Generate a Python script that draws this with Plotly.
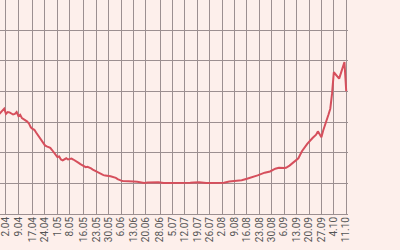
import pandas as pd
import plotly.graph_objects as go

start_date = "2020-03-29"
day_offsets = [0, 1, 2, 3, 4, 5, 6, 7, 8, 9, 10, 11, 12, 13, 14, 15, 16, 17, 18, 19,
               20, 21, 22, 23, 24, 25, 26, 27, 28, 29, 30, 31, 32, 33, 34, 35, 36, 37, 38, 39,
               40, 41, 42, 43, 44, 45, 46, 47, 48, 49, 50, 51, 52, 53, 54, 55, 56, 57, 58, 59,
               60, 61, 62, 63, 64, 65, 66, 67, 68, 69, 70, 72, 74, 76, 78, 80, 82, 84, 86, 90,
               93, 96, 100, 104, 108, 110, 113, 117, 121, 125, 127, 130, 132, 135, 137, 140,
               143, 146, 150, 153, 156, 158, 161, 162, 164, 166, 169, 171, 174, 177, 179, 180,
               182, 183, 184, 185, 186, 187, 188, 189, 190, 191, 192, 194, 195, 196]
values = [325, 331, 338, 344, 327, 333, 332, 329, 325, 327, 333, 320, 324, 313, 309, 307, 302, 295, 283, 278,
          275, 266, 257, 248, 239, 230, 224, 221, 218, 216, 209, 201, 191, 186, 188, 178, 175, 178, 182, 178,
          180, 181, 178, 175, 170, 167, 163, 160, 155, 153, 154, 152, 149, 145, 142, 137, 135, 131, 128, 127,
          126, 126, 124, 123, 122, 120, 118, 114, 111, 109, 108, 108, 107, 106, 105, 103, 101, 103, 104, 104,
          101, 101, 100, 101, 102, 103, 104, 101, 101, 101, 102, 106, 107, 108, 110, 115,
          120, 126, 135, 139, 148, 151, 150, 151, 158, 167, 182, 205, 229, 248, 259, 270,
          251, 273, 293, 310, 325, 344, 393, 463, 455, 446, 442, 478, 496, 401]

tick_dates = ["2020-04-02", "2020-04-09", "2020-04-17", "2020-04-24", "2020-05-01", "2020-05-08",
              "2020-05-16", "2020-05-23", "2020-05-30", "2020-06-06", "2020-06-13", "2020-06-20",
              "2020-06-28", "2020-07-05", "2020-07-12", "2020-07-19", "2020-07-26", "2020-08-02",
              "2020-08-09", "2020-08-16", "2020-08-23", "2020-08-30", "2020-09-06", "2020-09-13",
              "2020-09-20", "2020-09-27", "2020-10-04", "2020-10-11"]
tick_labels = ["2.04", "9.04", "17.04", "24.04", "1.05", "8.05", "16.05", "23.05", "30.05",
               "6.06", "13.06", "20.06", "28.06", "5.07", "12.07", "19.07", "26.07", "2.08",
               "9.08", "16.08", "23.08", "30.08", "6.09", "13.09", "20.09", "27.09", "4.10", "11.10"]

dates = pd.Timestamp(start_date) + pd.to_timedelta(day_offsets, unit="D")

bg = "#fdefeb"
grid = "#9c8f90"

fig = go.Figure()
fig.add_trace(go.Scatter(x=dates, y=values, mode="lines",
                         line=dict(color="#d64f5c", width=2), hoverinfo="skip"))

fig.update_layout(
    width=400, height=250,
    margin=dict(l=0, r=52, t=0, b=36, pad=0),
    paper_bgcolor=bg, plot_bgcolor=bg,
    showlegend=False,
    xaxis=dict(
        type="date",
        range=["2020-03-29 14:53", "2020-10-12 00:00"],
        tickmode="array", tickvals=tick_dates, ticktext=tick_labels,
        tickangle=-90, tickfont=dict(family="Roboto", size=10, color="#555555"),
        showgrid=True, gridcolor=grid, gridwidth=1,
        showline=False, zeroline=False, ticks="",
    ),
    yaxis=dict(
        range=[0, 699], dtick=100, tick0=0,
        showticklabels=False, showgrid=True, gridcolor=grid, gridwidth=1,
        zeroline=True, zerolinecolor=grid, zerolinewidth=1, ticks="",
    ),
)

fig.write_html("out.html")
